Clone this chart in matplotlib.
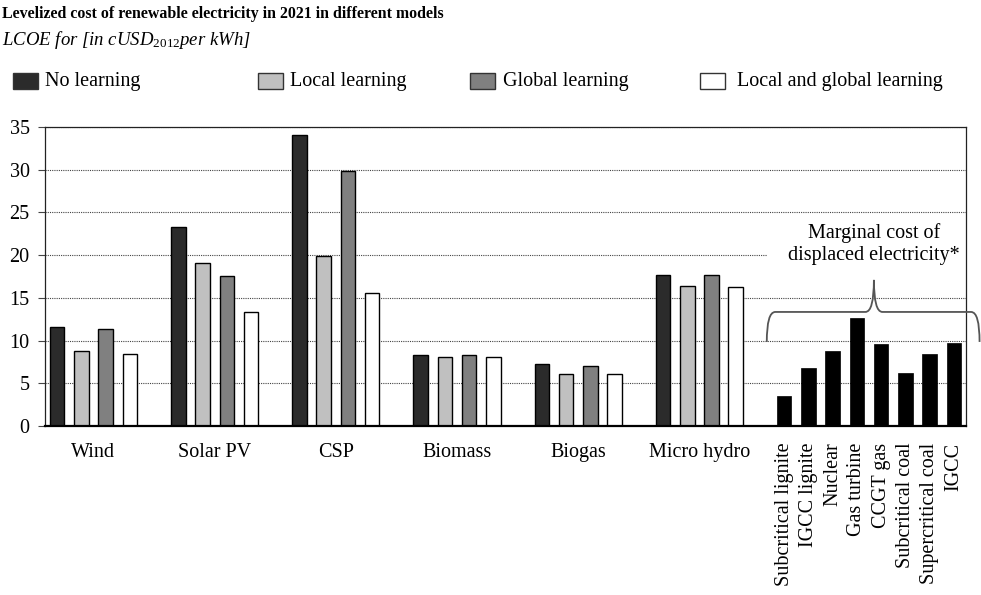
import numpy as np
import matplotlib
matplotlib.use('Agg')
import matplotlib.pyplot as plt
from matplotlib.patches import Rectangle, PathPatch
from matplotlib.path import Path

plt.rcParams['font.family'] = ['Liberation Serif', 'DejaVu Serif']
plt.rcParams['mathtext.fontset'] = 'custom'
plt.rcParams['mathtext.rm'] = 'Liberation Serif'
plt.rcParams['mathtext.it'] = 'Liberation Serif:italic'

categories = ['Wind', 'Solar PV', 'CSP', 'Biomass', 'Biogas', 'Micro hydro']
series_names = ['No learning', 'Local learning', 'Global learning', 'Local and global learning']
no_learning = [11.6, 23.3, 34.1, 8.3, 7.2, 17.7]
local_learning = [8.75, 19.05, 19.95, 8.1, 6.05, 16.4]
global_learning = [11.4, 17.55, 29.8, 8.3, 7.05, 17.7]
local_global = [8.45, 13.3, 15.6, 8.1, 6.05, 16.3]
series_colors = ['#2b2b2b', '#c0c0c0', '#808080', '#ffffff']

marginal_labels = ['Subcritical lignite', 'IGCC lignite', 'Nuclear', 'Gas turbine',
                   'CCGT gas', 'Subcritical coal', 'Supercritical coal', 'IGCC']
marginal_cost = [3.55, 6.75, 8.8, 12.7, 9.55, 6.25, 8.4, 9.7]

W, H = 981, 595
fig = plt.figure(figsize=(W / 100, H / 100), dpi=100)
ax = fig.add_axes([45 / W, 1 - 426 / H, (966 - 45) / W, (426 - 127) / H])

all_series = [no_learning, local_learning, global_learning, local_global]
group_x = np.arange(len(categories)) * 5
bw = 0.6
for j, vals in enumerate(all_series):
    ax.bar(group_x + j, vals, width=bw, color=series_colors[j], edgecolor='black',
           linewidth=1.0, zorder=2)

mx = 5 * len(categories) + np.arange(len(marginal_cost))
ax.bar(mx, marginal_cost, width=bw, color='black', edgecolor='black', linewidth=0.5, zorder=2)

ax.set_xlim(-0.5, 37.5)
ax.set_ylim(0, 35)
ax.set_yticks(np.arange(0, 36, 5))
ax.yaxis.grid(True, linestyle=(0, (1, 1)), color='#444444', linewidth=0.8)
ax.set_axisbelow(True)
ax.tick_params(axis='y', length=5, width=0.8, color='#444444', labelsize=14.5, pad=6)

ax.set_xticks(list(group_x + 1.5) + list(mx))
ax.set_xticklabels(categories + marginal_labels, fontsize=14.5)
ax.tick_params(axis='x', length=0, pad=12)
for lbl in ax.get_xticklabels()[len(categories):]:
    lbl.set_rotation(90)
    lbl.set_va('top')

for side in ['left', 'top', 'right']:
    ax.spines[side].set_linewidth(0.9)
    ax.spines[side].set_color('#222222')
ax.spines['bottom'].set_linewidth(1.6)

# white mask behind the annotation text
ax.add_patch(Rectangle((29.3, 18.0), 8.2, 4.5, facecolor='white', edgecolor='none', zorder=1))

# curly brace
xl, xr, xm = 29.28, 38.06, 33.7
yb, yh, yt = 9.84, 13.35, 17.1
r = 0.35
verts = [(xl, yb), (xl, yh), (xl + r, yh), (xm - r, yh), (xm, yh), (xm, yt),
         (xm, yh), (xm + r, yh), (xr - r, yh), (xr, yh), (xr, yb)]
codes = [Path.MOVETO, Path.CURVE3, Path.CURVE3, Path.LINETO, Path.CURVE3, Path.CURVE3,
         Path.CURVE3, Path.CURVE3, Path.LINETO, Path.CURVE3, Path.CURVE3]
ax.add_patch(PathPatch(Path(verts, codes), facecolor='none', edgecolor='#555555',
                       linewidth=1.3, clip_on=False, zorder=3))
ax.text(xm, 21.3, 'Marginal cost of\ndisplaced electricity*', ha='center', va='center',
        fontsize=14.5, linespacing=1.2, zorder=4)

# titles
fig.text(2 / W, 1 - 18 / H, 'Levelized cost of renewable electricity in 2021 in different models',
         fontsize=11.4, fontweight='bold', ha='left', va='baseline')
fig.text(2 / W, 1 - 45 / H, r'LCOE for [in cUSD$_{\mathit{2012}}$per kWh]',
         fontsize=13.5, style='italic', ha='left', va='baseline')

# legend
box_x = [13, 258, 470, 700]
text_x = [45, 290, 503, 737]
for name, color, bx, tx in zip(series_names, series_colors, box_x, text_x):
    fig.add_artist(Rectangle((bx / W, 1 - 89 / H), 25 / W, 16 / H, transform=fig.transFigure,
                             facecolor=color, edgecolor='#333333', linewidth=1.0))
    fig.text(tx / W, 1 - 86 / H, name, fontsize=14.5, ha='left', va='baseline')

fig.savefig('out.png', dpi=100)
